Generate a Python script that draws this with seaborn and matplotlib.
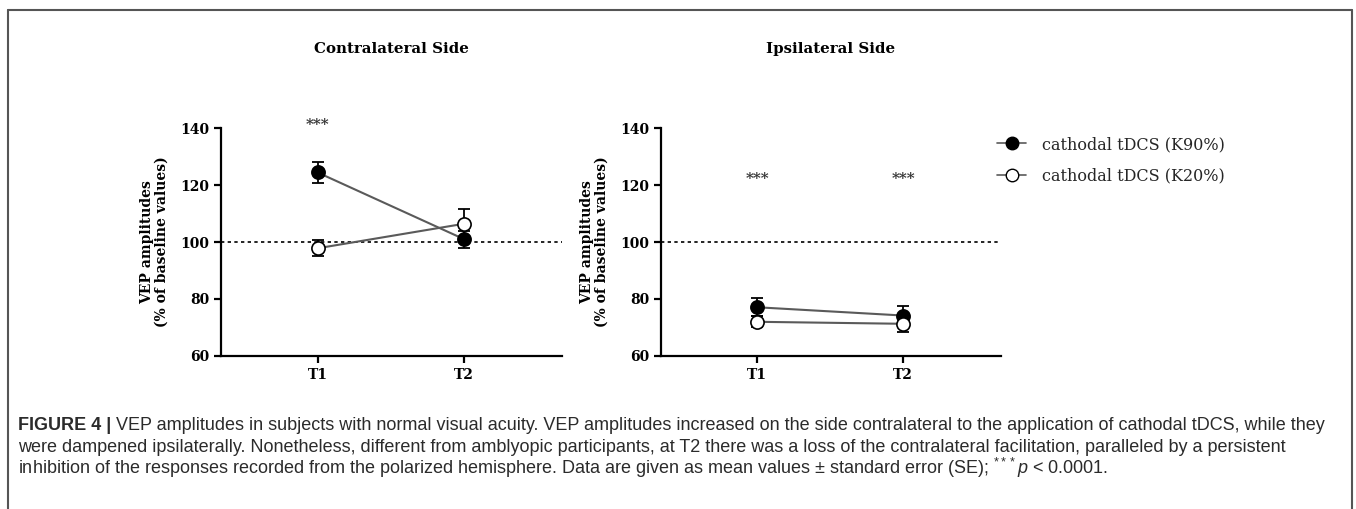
import matplotlib
matplotlib.use("Agg")
from matplotlib import pyplot as plt
from matplotlib.lines import Line2D
import numpy as np
import pandas as pd
import seaborn as sns

# values (% of baseline, mean +/- SE)
timepoints = ["T1", "T2"]
groups = ["cathodal tDCS (K90%)", "cathodal tDCS (K20%)"]

contra_k90 = [124.4, 101.0]
contra_k90_se = [3.8, 3.0]
contra_k20 = [97.8, 106.4]
contra_k20_se = [2.8, 5.1]

ipsi_k90 = [77.1, 74.2]
ipsi_k90_se = [3.2, 3.5]
ipsi_k20 = [72.0, 71.3]
ipsi_k20_se = [2.0, 3.0]

contra_stars = [141.0, None]
ipsi_stars = [122.0, 122.0]

yticks = [60, 80, 100, 120, 140]

caption_bold = "FIGURE 4 | "
caption_lines = [
    "VEP amplitudes in subjects with normal visual acuity. VEP amplitudes increased on the side contralateral to the application of cathodal tDCS, while they",
    "were dampened ipsilaterally. Nonetheless, different from amblyopic participants, at T2 there was a loss of the contralateral facilitation, paralleled by a persistent",
    r"inhibition of the responses recorded from the polarized hemisphere. Data are given as mean values $\pm$ standard error (SE); $^{***}\mathit{p}$ < 0.0001.",
]

sns.set_style("ticks")
plt.rcParams["font.family"] = ["DejaVu Serif"]
plt.rcParams["mathtext.fontset"] = "custom"
plt.rcParams["mathtext.rm"] = "Liberation Sans"
plt.rcParams["mathtext.it"] = "Liberation Sans:italic"

face = {groups[0]: "black", groups[1]: "white"}


def make_df(k90, k90_se, k20, k20_se):
    rows = []
    for g, vals, ses in [(groups[0], k90, k90_se), (groups[1], k20, k20_se)]:
        for t, v, s in zip(timepoints, vals, ses):
            rows.append({"time": t, "group": g, "mean": v, "se": s})
    return pd.DataFrame(rows)


def draw_panel(ax, df, stars, title):
    for g in groups:
        sub = df[df["group"] == g]
        xpos = [timepoints.index(t) for t in sub["time"]]
        ax.errorbar(xpos, sub["mean"], yerr=sub["se"], fmt="none", ecolor="black",
                    elinewidth=1.3, capsize=4, capthick=1.3, zorder=2)
    for g in groups:
        sub = df[df["group"] == g]
        sns.lineplot(data=sub, x="time", y="mean", ax=ax, color="#5a5a5a", linewidth=1.5,
                     marker="o", markersize=9.5, markerfacecolor=face[g],
                     markeredgecolor="black", markeredgewidth=1.2, zorder=3)
    ax.axhline(100, color="black", linestyle=(0, (2, 2)), linewidth=1.2, zorder=1)
    for i, s in enumerate(stars):
        if s is not None:
            ax.text(i, s, "***", ha="center", va="center", fontsize=11,
                    fontweight="bold", color="#333333")
    ax.set_xlim(-0.66, 1.67)
    ax.set_ylim(60, 140)
    ax.set_yticks(yticks)
    ax.set_xticks(range(len(timepoints)))
    ax.set_xticklabels(timepoints)
    ax.set_xlabel("")
    ax.set_ylabel("VEP amplitudes\n(% of baseline values)", fontsize=10,
                  fontweight="bold", linespacing=1.1, labelpad=8, color="black")
    ax.set_title(title, fontsize=10.8, fontweight="bold", pad=54, color="black")
    sns.despine(ax=ax)
    for sp in ["left", "bottom"]:
        ax.spines[sp].set_linewidth(1.6)
        ax.spines[sp].set_color("black")
    ax.tick_params(width=1.6, length=5, labelsize=10, color="black", labelcolor="black")
    for lab in ax.get_xticklabels() + ax.get_yticklabels():
        lab.set_fontweight("bold")
    legend = ax.get_legend()
    if legend is not None:
        legend.remove()


fig = plt.figure(figsize=(13.56, 5.09), dpi=100)
ax1 = fig.add_axes([0.163, 0.3006, 0.2515, 0.4479])
ax2 = fig.add_axes([0.4875, 0.3006, 0.2505, 0.4479])

draw_panel(ax1, make_df(contra_k90, contra_k90_se, contra_k20, contra_k20_se),
           contra_stars, "Contralateral Side")
draw_panel(ax2, make_df(ipsi_k90, ipsi_k90_se, ipsi_k20, ipsi_k20_se),
           ipsi_stars, "Ipsilateral Side")

handles = [Line2D([], [], color="#5a5a5a", linewidth=1.2, marker="o", markersize=9,
                  markerfacecolor=face[g], markeredgecolor="black") for g in groups]
fig.legend(handles, groups, loc="upper left", bbox_to_anchor=(0.725, 0.761),
           frameon=False, handlelength=1.8, handletextpad=1.0, labelspacing=0.9,
           prop={"family": "DejaVu Serif", "size": 11.5})

# border around figure panel (top, left, right)
border = "#555555"
fig.add_artist(Line2D([0.006, 0.997], [0.980, 0.980], color=border, linewidth=1.5))
fig.add_artist(Line2D([0.006, 0.006], [0.0, 0.980], color=border, linewidth=1.5))
fig.add_artist(Line2D([0.997, 0.997], [0.0, 0.980], color=border, linewidth=1.5))

# caption
cap_font = "Liberation Sans"
cap_size = 13.0
cap_color = "#2b2b2b"
t0 = fig.text(0.0133, 1 - 430 / 509, caption_bold, fontsize=cap_size, fontweight="bold",
              family=cap_font, va="baseline", color=cap_color)
plt.annotate(caption_lines[0], xy=(1, 0), xycoords=t0, va="bottom", ha="left",
             fontsize=cap_size, family=cap_font, color=cap_color)
for i, line in enumerate(caption_lines[1:]):
    fig.text(0.0133, 1 - (452 + 22 * i) / 509, line, fontsize=cap_size, family=cap_font,
             va="baseline", color=cap_color)

fig.savefig("out.png", dpi=100)
